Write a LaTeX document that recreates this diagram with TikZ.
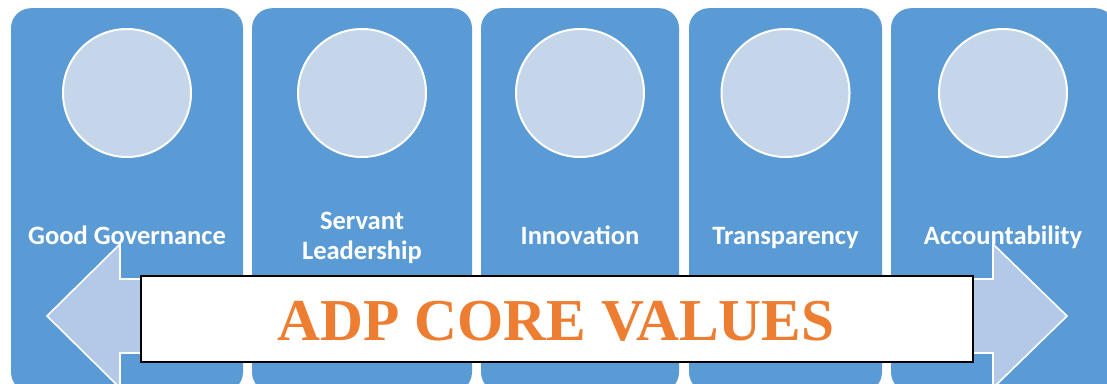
\documentclass[tikz,border=0pt]{standalone}
\usepackage{fontspec}
\newfontfamily\labfont{Carlito}
\newfontfamily\titlefont{Liberation Serif}
\definecolor{panelblue}{HTML}{5B9BD5}
\definecolor{circfill}{HTML}{C5D5EA}
\definecolor{arrowfill}{HTML}{B4C8E7}
\definecolor{titleorange}{HTML}{ED7D31}
\begin{document}
\begin{tikzpicture}[x=1pt,y=-1pt,
  panel/.style={fill=panelblue, draw=none, rounded corners=20pt, minimum height=384pt, inner sep=0pt, anchor=north},
  disc/.style={circle, fill=circfill, draw=white, line width=2pt, minimum size=128pt, inner sep=0pt},
  lab/.style={text=white, font=\labfont\bfseries\fontsize{26.5}{30}\selectfont, align=center, inner sep=0pt},
  arrowshape/.style={fill=arrowfill, draw=white, line width=1.6pt, line join=miter},
  titlebox/.style={fill=white, draw=black, line width=1.2pt, minimum width=832pt, minimum height=86pt, inner sep=0pt},
  titletext/.style={text=titleorange, font=\titlefont\bfseries\fontsize{59.4}{62}\selectfont, inner sep=0pt}
]
\useasboundingbox (0,0) rectangle (1107,383);
\clip (0,0) rectangle (1107,383);
\fill[white] (0,0) rectangle (1107,383);
% panels
\node[panel, minimum width=232pt] (p1) at (127,8) {};
\node[panel, minimum width=220pt] (p2) at (362,8) {};
\node[panel, minimum width=198pt] (p3) at (580,8) {};
\node[panel, minimum width=193pt] (p4) at (785.5,8) {};
\node[panel, minimum width=224pt] (p5) at (1003,8) {};
% circles
\node[disc] (c1) at (127,93) {};
\node[disc] (c2) at (362,93) {};
\node[disc] (c3) at (580,93) {};
\node[disc] (c4) at (785.5,93) {};
\node[disc] (c5) at (1003,93) {};
% labels
\node[lab, anchor=base] (l1) at (127,244) {Good Governance};
\node[lab, anchor=base] (l2) at (362,259) {Servant\\Leadership};
\node[lab, anchor=base] (l3) at (580,244) {Innovation};
\node[lab, anchor=base] (l4) at (785.5,244) {Transparency};
\node[lab, anchor=base] (l5) at (1003,244) {Accountability};
% double arrow
\draw[arrowshape] (47,316) -- (120,244) -- (120,279) -- (993,279) -- (993,244)
  -- (1067,316) -- (993,388) -- (993,353) -- (120,353) -- (120,388) -- cycle;
% title box
\node[titlebox] (box) at (557,319) {};
\node[titletext, anchor=base] (title) at (556,340.5) {ADP CORE VALUES};
\end{tikzpicture}
\end{document}
